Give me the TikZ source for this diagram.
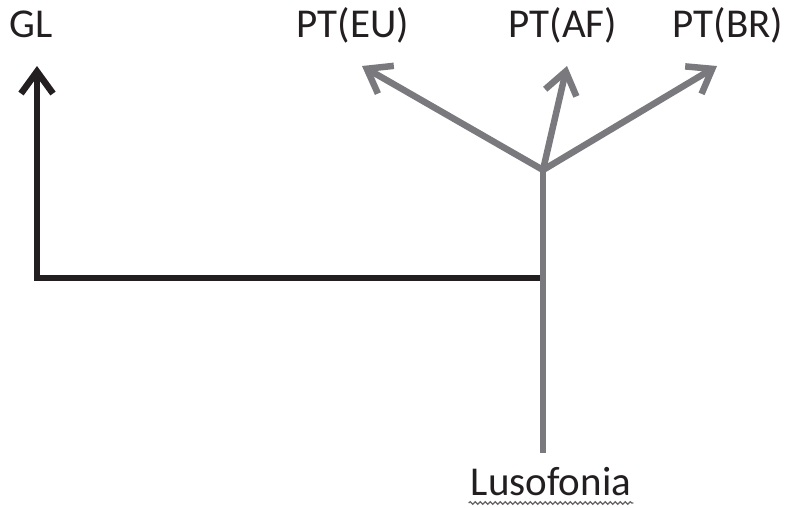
\documentclass[tikz,border=0pt]{standalone}
\usepackage{xcolor}
\usepackage{fontspec}
\setmainfont{Carlito}
\usepackage{tikz}
\usetikzlibrary{positioning,calc,arrows.meta,decorations.pathmorphing}

\definecolor{branchgray}{HTML}{7A7A7E}
\definecolor{rootblack}{HTML}{231F20}

\tikzset{
    langlabel/.style={anchor=base, inner sep=0pt, font=\fontsize{41}{48}\selectfont, text=rootblack},
    blackline/.style={line width=6.5pt, draw=rootblack},
    grayline/.style={line width=6.5pt, draw=branchgray},
    barb/.style={-{Straight Barb[length=22pt,width=32pt]}}
}

\begin{document}
\begin{tikzpicture}[x=1pt,y=-1pt]
    \useasboundingbox (0,0) rectangle (788,507);

    % Labels
    \node[langlabel] (gl) at (31,37) {GL};
    \node[langlabel] (eu) at (353,37) {PT(EU)};
    \node[langlabel] (af) at (563,37) {PT(AF)};
    \node[langlabel] (br) at (728,37) {PT(BR)};
    \node[langlabel] (luso) at (551,495) {Lusofonia};

    % Points of the tree
    \coordinate (bottom) at (543,453);
    \coordinate (fork) at (543,170);
    \coordinate (joint) at (543,278);
    \coordinate (corner) at (37,278);
    \coordinate (gltip) at (37,66);
    \coordinate (eutip) at (362,66);
    \coordinate (aftip) at (567,66);
    \coordinate (brtip) at (717,66);

    % Black branch to GL
    \draw[blackline, barb, line join=miter] (joint) -- (corner) -- (gltip);

    % Gray trunk and branches
    \draw[grayline] (bottom) -- (fork);
    \draw[grayline, barb] (fork) -- (eutip);
    \draw[grayline, barb] (fork) -- (aftip);
    \draw[grayline, barb] (fork) -- (brtip);

    % Wavy underline under Lusofonia
    \draw[rootblack!70, line width=1.2pt, decorate,
          decoration={snake, amplitude=1.3pt, segment length=5pt}]
        ($(luso.base west)+(-2,8)$) -- ($(luso.base east)+(2,8)$);
\end{tikzpicture}
\end{document}
